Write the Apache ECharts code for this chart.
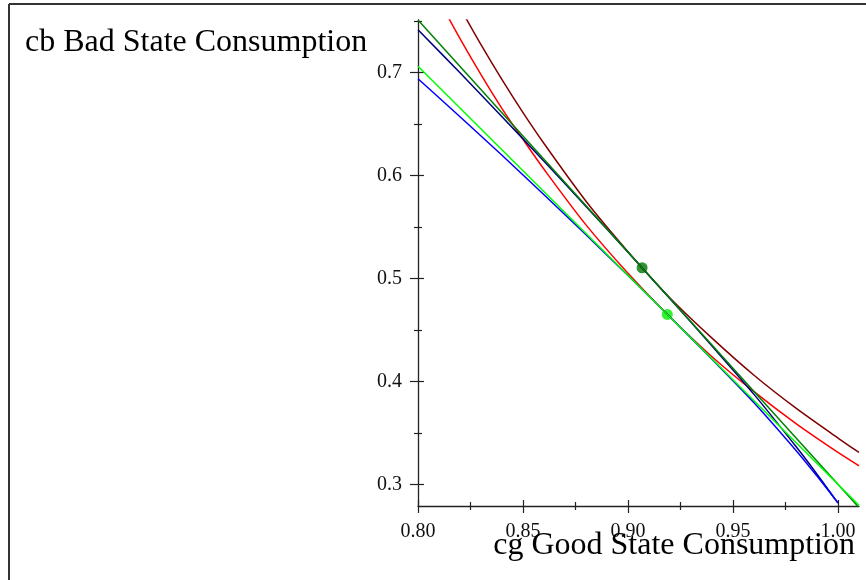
<!DOCTYPE html>
<html>
<head>
<meta charset="utf-8">
<script src="https://cdn.jsdelivr.net/npm/echarts@6/dist/echarts.min.js"></script>
<style>
  html, body { margin: 0; padding: 0; background: #ffffff; }
  #chart { width: 866px; height: 580px; }
</style>
</head>
<body>
<div id="chart"></div>
<script>
// Indifference curve through the insured optimum (higher utility)
const indiffHighCg = [0.82, 0.83, 0.84, 0.85, 0.86, 0.88, 0.90, 0.92, 0.94, 0.96, 0.98, 1.00, 1.01];
const indiffHighCb = [0.763, 0.727, 0.693, 0.661, 0.631, 0.575, 0.526, 0.481, 0.442, 0.406, 0.374, 0.345, 0.331];

// Indifference curve through the lower optimum
const indiffLowCg = [0.81, 0.82, 0.83, 0.84, 0.85, 0.86, 0.88, 0.90, 0.92, 0.94, 0.96, 0.98, 1.00, 1.01];
const indiffLowCb = [0.770, 0.733, 0.698, 0.665, 0.635, 0.606, 0.552, 0.505, 0.4625, 0.424, 0.390, 0.359, 0.331, 0.318];

// Consumption frontiers ending at the no-insurance point (1.00, 0.282)
const frontierCg = [0.80, 0.82, 0.84, 0.86, 0.88, 0.90, 0.92, 0.94, 0.96, 0.98, 0.99, 1.00];
const frontierHighCb = [0.7416, 0.6997, 0.6571, 0.6139, 0.5700, 0.5255, 0.4803, 0.4344, 0.3874, 0.3367, 0.3099, 0.2818];
const frontierLowCb = [0.6940, 0.6571, 0.6196, 0.5813, 0.5424, 0.5028, 0.4625, 0.4215, 0.3793, 0.3330, 0.3081, 0.2820];

// Tangent budget lines
const budgetCg = [0.80, 1.01];
const budgetHighCb = [0.7510, 0.2775];
const budgetLowCb = [0.7061, 0.2798];

// Optimal consumption bundles
const optimumHigh = [0.9067, 0.5104];
const optimumLow = [0.9187, 0.4651];

// Axis ticks
const xMajorTicks = [0.80, 0.85, 0.90, 0.95, 1.00];
const xMinorTicks = [0.825, 0.875, 0.925, 0.975];
const yMajorTicks = [0.3, 0.4, 0.5, 0.6, 0.7];
const yMinorTicks = [0.35, 0.45, 0.55, 0.65, 0.75];

const xTitle = 'cg Good State Consumption';
const yTitle = 'cb Bad State Consumption';

const SERIF = '"Liberation Serif", "Times New Roman", serif';
const AXIS_COLOR = '#222';

function pairs(xs, ys) {
  return xs.map((x, i) => [x, ys[i]]);
}

function xAxisLayer(ticks, inside, len, withLine, withLabels) {
  return {
    type: 'value', position: 'bottom', min: 0.80, max: 1.01,
    axisLine: { show: withLine, onZero: false, lineStyle: { color: AXIS_COLOR, width: 1.3 } },
    axisTick: { show: true, inside: inside, length: len, customValues: ticks,
                lineStyle: { color: AXIS_COLOR, width: 1.2 } },
    axisLabel: withLabels ? {
      show: true, customValues: ticks, margin: 16,
      formatter: v => Number(v).toFixed(2),
      fontFamily: SERIF, fontSize: 20, color: '#111'
    } : { show: false },
    splitLine: { show: false }
  };
}

function yAxisLayer(ticks, inside, len, withLine, withLabels) {
  return {
    type: 'value', position: 'left', min: 0.279, max: 0.751,
    axisLine: { show: withLine, onZero: false, lineStyle: { color: AXIS_COLOR, width: 1.3 } },
    axisTick: { show: true, inside: inside, length: len, customValues: ticks,
                lineStyle: { color: AXIS_COLOR, width: 1.2 } },
    axisLabel: withLabels ? {
      show: true, customValues: ticks, margin: 16,
      formatter: v => Number(v).toFixed(1),
      fontFamily: SERIF, fontSize: 20, color: '#111'
    } : { show: false },
    splitLine: { show: false }
  };
}

function curve(name, xs, ys, color, smooth) {
  return {
    name: name, type: 'line', data: pairs(xs, ys),
    xAxisIndex: 0, yAxisIndex: 0,
    showSymbol: false, symbol: 'none', smooth: smooth,
    lineStyle: { color: color, width: 1.5 },
    emphasis: { disabled: true }, silent: true
  };
}

const chart = echarts.init(document.getElementById('chart'), null, { renderer: 'canvas' });

chart.setOption({
  animation: false,
  backgroundColor: '#ffffff',
  title: [
    { text: yTitle, left: 25, top: 27, padding: 0,
      textStyle: { fontFamily: SERIF, fontSize: 32, fontWeight: 'normal', color: '#000' } },
    { text: xTitle, right: 11, top: 530, padding: 0,
      textStyle: { fontFamily: SERIF, fontSize: 32, fontWeight: 'normal', color: '#000' } }
  ],
  grid: { left: 418, right: 7, top: 20, bottom: 74, containLabel: false, outerBoundsMode: 'none' },
  xAxis: [
    xAxisLayer(xMajorTicks, false, 7, true, true),
    xAxisLayer(xMajorTicks, true, 6, false, false),
    xAxisLayer(xMinorTicks, false, 4, false, false),
    xAxisLayer(xMinorTicks, true, 4, false, false)
  ],
  yAxis: [
    yAxisLayer(yMajorTicks, false, 8, true, true),
    yAxisLayer(yMajorTicks, true, 6, false, false),
    yAxisLayer(yMinorTicks, false, 4, false, false),
    yAxisLayer(yMinorTicks, true, 4, false, false)
  ],
  graphic: [
    { type: 'line', shape: { x1: 9, y1: 4, x2: 866, y2: 4 },
      style: { stroke: '#333', lineWidth: 2 }, silent: true },
    { type: 'line', shape: { x1: 9, y1: 4, x2: 9, y2: 580 },
      style: { stroke: '#333', lineWidth: 2 }, silent: true }
  ],
  series: [
    curve('Indifference (high)', indiffHighCg, indiffHighCb, '#800000', 0.3),
    curve('Indifference (low)', indiffLowCg, indiffLowCb, '#ff0000', 0.3),
    curve('Frontier (high)', frontierCg, frontierHighCb, '#000080', 0.3),
    curve('Frontier (low)', frontierCg, frontierLowCb, '#0000ff', 0.3),
    curve('Budget (high)', budgetCg, budgetHighCb, '#008000', false),
    curve('Budget (low)', budgetCg, budgetLowCb, '#00ff00', false),
    {
      name: 'Optimum (high)', type: 'scatter', data: [optimumHigh],
      symbol: 'circle', symbolSize: 11, itemStyle: { color: '#007800' }, silent: true
    },
    {
      name: 'Optimum (low)', type: 'scatter', data: [optimumLow],
      symbol: 'circle', symbolSize: 11, itemStyle: { color: '#00ee00' }, silent: true
    }
  ]
});
</script>
</body>
</html>
